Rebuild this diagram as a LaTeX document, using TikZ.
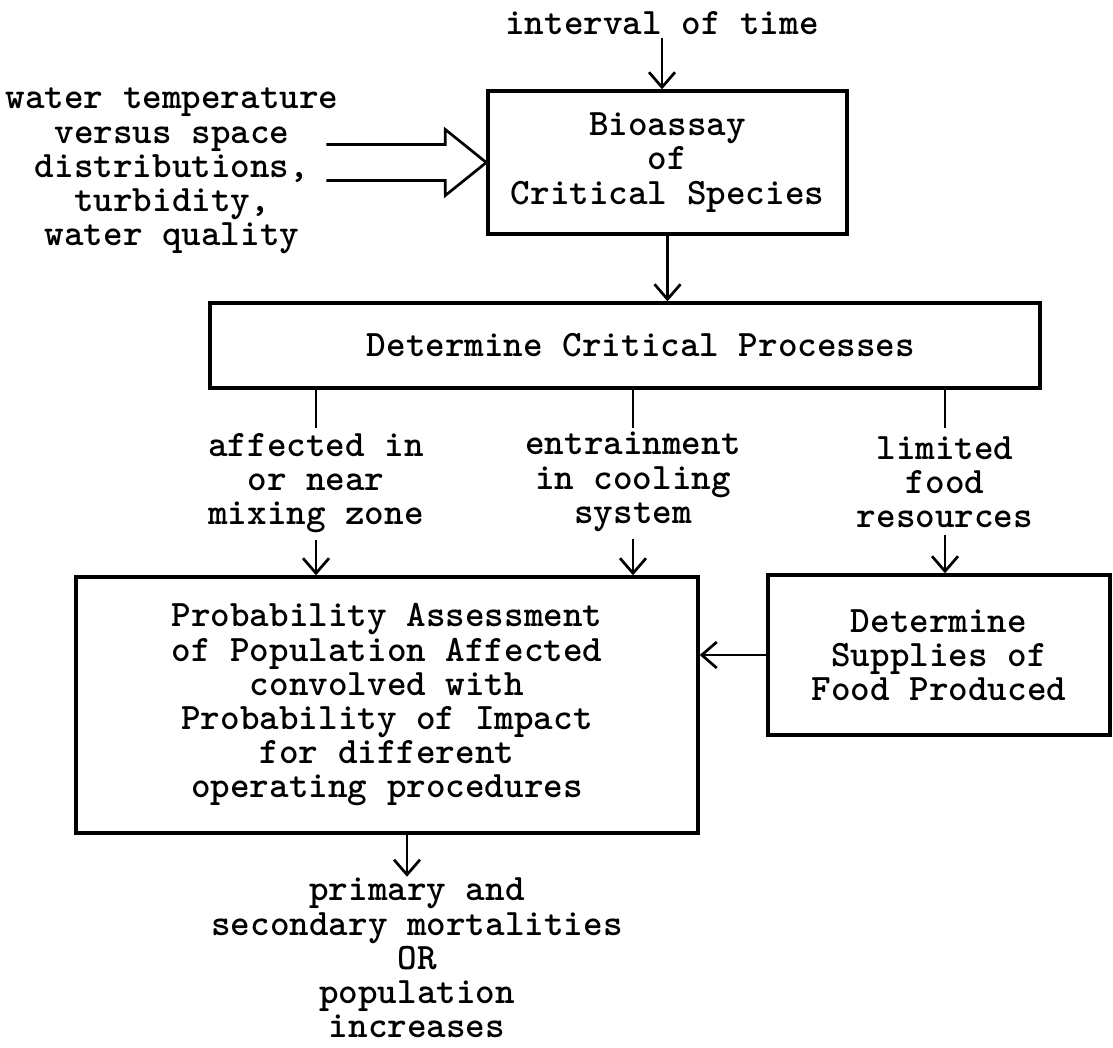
\documentclass[tikz,border=0pt]{standalone}
\usepackage{fontspec}
\usepackage{tikz}
\usetikzlibrary{arrows.meta}

\tikzset{
  box/.style = {draw, line width=3.4pt, align=center, inner sep=0pt},
  lbl/.style = {align=center, inner sep=0pt},
}

\begin{document}
\begin{tikzpicture}[x=1pt, y=-1pt, line width=2.7pt,
  >={Straight Barb[length=15pt, width=26pt]},
  font=\fontsize{37.3}{34.2}\selectfont\ttfamily\bfseries]
\useasboundingbox (0,0) rectangle (1113,1047);

% Boxes
\node[box, minimum width=359pt, minimum height=143pt] (bio) at (667.5,162.5)
  {Bioassay\\of\\Critical Species};
\node[box, minimum width=830pt, minimum height=85pt] (crit) at (625,345.5)
  {\hspace*{32pt}Determine Critical Processes};
\node[box, minimum width=622pt, minimum height=256pt] (prob) at (387,705)
  {Probability Assessment\\of Population Affected\\convolved with\\Probability of Impact\\for different\\operating procedures};
\node[box, minimum width=342pt, minimum height=160pt] (supply) at (939,655)
  {Determine\\Supplies of\\Food Produced};

% Free texts
\node[lbl] (interval) at (662,23) {interval of time};
\node[lbl] (water) at (172,171)
  {water temperature\\versus space\\distributions,\\turbidity,\\water quality};
\node[lbl] (mixing) at (316,483) {affected in\\or near\\mixing zone};
\node[lbl] (cooling) at (633,482) {entrainment\\in cooling\\system};
\node[lbl] (food) at (945,482) {limited\\food\\resources};
\node[lbl] (result) at (417,958)
  {primary and\\secondary mortalities\\OR\\population\\increases};

% Hollow input arrow
\draw[line join=miter] (bio.west) -- ++(-41,-33) -- ++(0,15) -- ++(-119,0);
\draw[line join=miter] (bio.west) -- ++(-41,33) -- ++(0,-15) -- ++(-119,0);

% Connectors
\draw[->] (interval.south) ++(0,2) -- (interval.south |- bio.north);
\draw[->] (bio.south) -- (bio.south |- crit.north);
\draw (mixing.north |- crit.south) -- ++(0,38);
\draw (cooling.north |- crit.south) -- ++(0,38);
\draw (food.north |- crit.south) -- ++(0,38);
\draw[->] (mixing.south) ++(0,6) -- (mixing.south |- prob.north);
\draw[->] (cooling.south) ++(0,6) -- (cooling.south |- prob.north);
\draw[->] (food.south) ++(0,6) -- (food.south |- supply.north);
\draw[->] (supply.west) -- (supply.west -| prob.east);
\draw[->] ([xshift=-10pt]result.north |- prob.south) -- ([xshift=-10pt]result.north);

\end{tikzpicture}
\end{document}
